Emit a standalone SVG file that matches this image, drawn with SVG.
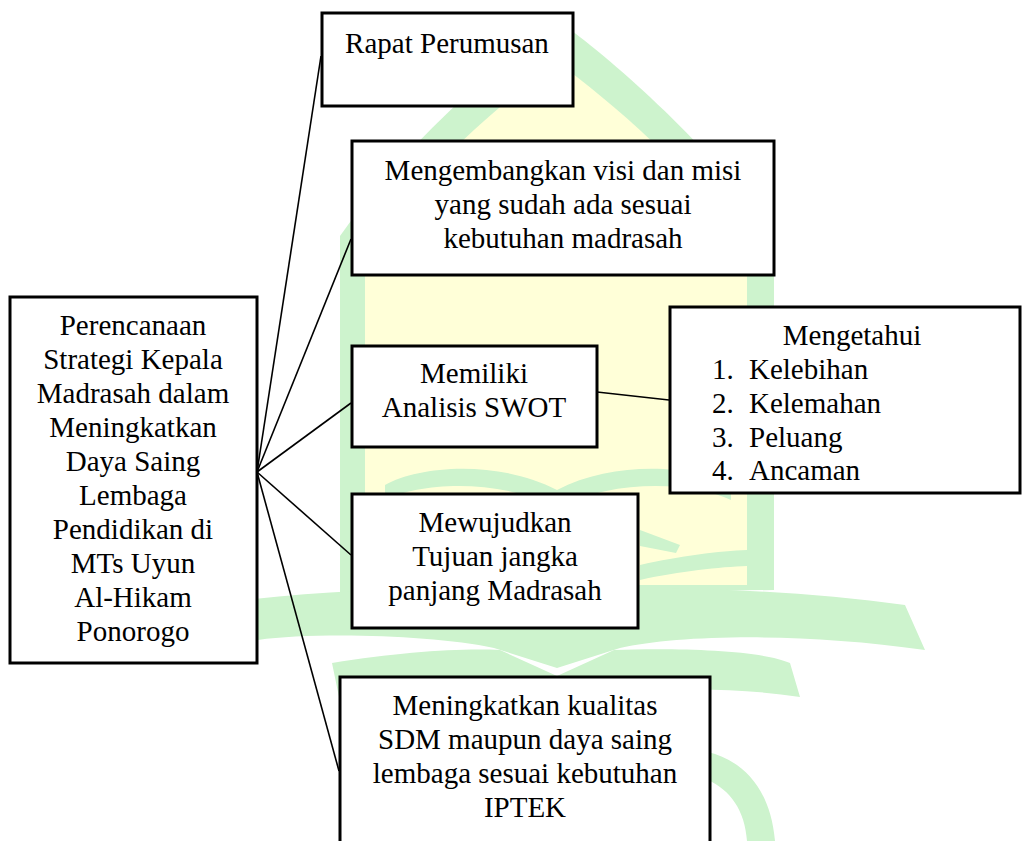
<svg xmlns="http://www.w3.org/2000/svg" width="1023" height="841" viewBox="0 0 1023 841">
<style>
.node rect{fill:#fff;stroke:#000;stroke-width:3}
text{font-family:"Liberation Serif","Times New Roman",serif;font-size:29px;fill:#000}
.c{text-anchor:middle}
.edge line{stroke:#000;stroke-width:1.6}
.wg{fill:#cdf3cd}
.wy{fill:#ffffd8}
</style>
<rect x="0" y="0" width="1023" height="841" fill="#fff"/>
<g id="watermark">
<path class="wg" d="M340,595 L340,236 C400,150 500,60 557,20 C614,60 714,150 774,236 L774,590 Z"/>
<path class="wy" d="M365,585 L365,250 C420,172 505,100 557,62 C609,100 694,172 747,250 L747,585 Z"/>
<path class="wg" d="M385,485 C420,465 500,460 557,490 C614,460 694,465 731,485 L731,500 C694,482 614,478 557,508 C500,478 420,482 385,500 Z"/>
<path class="wg" d="M640,530 L680,545 L676,553 L640,546 Z"/>
<path class="wg" d="M640,565 C680,556 720,551 747,550 L747,566 C720,567 680,571 640,580 Z"/>
<path class="wg" d="M245,600 C350,588 480,585 557,592 C640,585 780,588 905,605 L925,650 C800,632 680,635 620,648 L557,668 L494,648 C434,635 316,632 258,640 Z"/>
<path class="wg" d="M332,663 C400,652 460,648 500,650 L557,676 L614,650 C680,648 760,650 790,663 L800,697 C740,688 680,688 640,692 L557,720 L474,692 C434,688 376,688 339,697 Z"/>
<path class="wg" d="M708,752 C740,760 770,785 775,841 L747,841 C745,810 730,790 708,780 Z"/>
</g>
<g id="connectors" class="edge">
<line x1="257" y1="472" x2="321" y2="56"/>
<line x1="257" y1="472" x2="351" y2="239"/>
<line x1="257" y1="472" x2="351" y2="403"/>
<line x1="257" y1="472" x2="351" y2="555"/>
<line x1="257" y1="472" x2="339" y2="771"/>
<line x1="597" y1="392" x2="669" y2="400"/>
</g>
<g id="node-main" class="node">
<rect x="10" y="297" width="247" height="366"/>
<text class="c" x="133" y="335">Perencanaan</text>
<text class="c" x="133" y="369">Strategi Kepala</text>
<text class="c" x="133" y="403">Madrasah dalam</text>
<text class="c" x="133" y="437">Meningkatkan</text>
<text class="c" x="133" y="471">Daya Saing</text>
<text class="c" x="133" y="505">Lembaga</text>
<text class="c" x="133" y="539">Pendidikan di</text>
<text class="c" x="133" y="573">MTs Uyun</text>
<text class="c" x="133" y="607">Al-Hikam</text>
<text class="c" x="133" y="641">Ponorogo</text>
</g>
<g id="node-rapat" class="node">
<rect x="322" y="13" width="251" height="93"/>
<text class="c" x="447" y="53">Rapat Perumusan</text>
</g>
<g id="node-visi" class="node">
<rect x="352" y="141" width="422" height="134"/>
<text class="c" x="563" y="180">Mengembangkan visi dan misi</text>
<text class="c" x="563" y="214">yang sudah ada sesuai</text>
<text class="c" x="563" y="248">kebutuhan madrasah</text>
</g>
<g id="node-swot" class="node">
<rect x="352" y="346" width="245" height="101"/>
<text class="c" x="474" y="383">Memiliki</text>
<text class="c" x="474" y="417">Analisis SWOT</text>
</g>
<g id="node-mengetahui" class="node">
<rect x="670" y="307" width="350" height="186"/>
<text class="c" x="852" y="345">Mengetahui</text>
<text x="712" y="379">1.</text><text x="749" y="379">Kelebihan</text>
<text x="712" y="413">2.</text><text x="749" y="413">Kelemahan</text>
<text x="712" y="447">3.</text><text x="749" y="447">Peluang</text>
<text x="712" y="480">4.</text><text x="749" y="480">Ancaman</text>
</g>
<g id="node-tujuan" class="node">
<rect x="352" y="494" width="286" height="134"/>
<text class="c" x="495" y="532">Mewujudkan</text>
<text class="c" x="495" y="566">Tujuan jangka</text>
<text class="c" x="495" y="600">panjang Madrasah</text>
</g>
<g id="node-sdm" class="node">
<rect x="340" y="677" width="370" height="180"/>
<text class="c" x="525" y="715">Meningkatkan kualitas</text>
<text class="c" x="525" y="749">SDM maupun daya saing</text>
<text class="c" x="525" y="783">lembaga sesuai kebutuhan</text>
<text class="c" x="525" y="817">IPTEK</text>
</g>
</svg>
